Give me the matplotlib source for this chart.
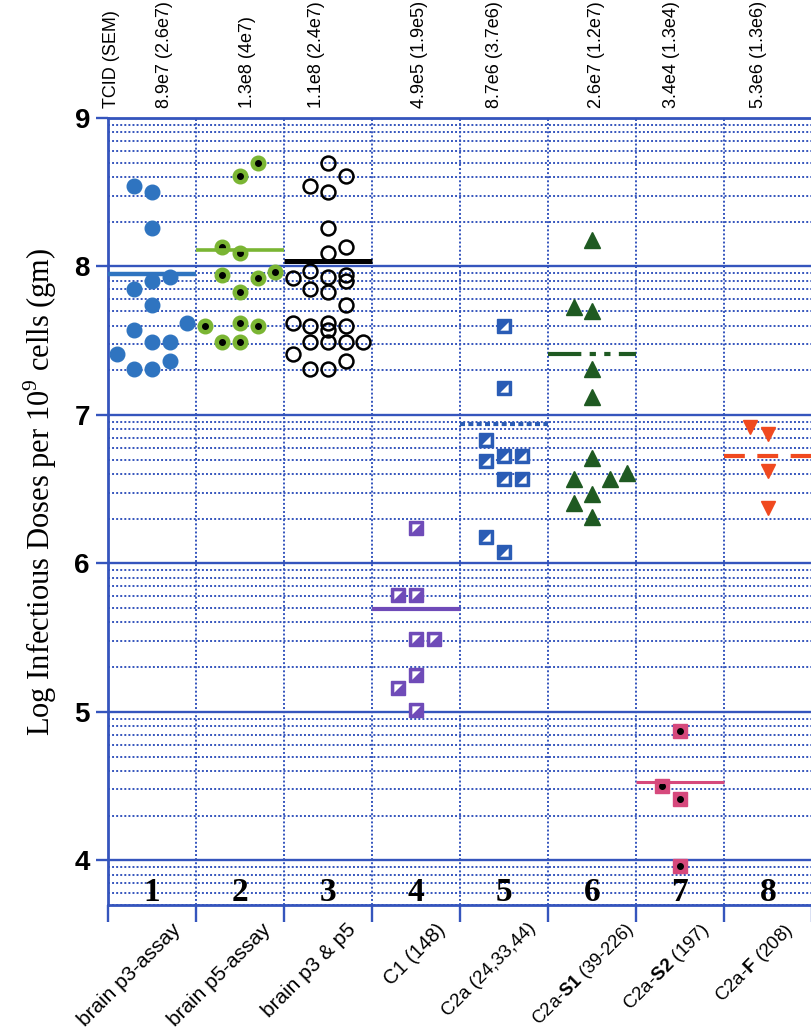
import matplotlib
matplotlib.use("Agg")
import matplotlib.pyplot as plt
import numpy as np
from matplotlib.path import Path
from matplotlib.transforms import blended_transform_factory

plt.rcParams["mathtext.fontset"] = "custom"
plt.rcParams["mathtext.rm"] = "Liberation Serif"
plt.rcParams["mathtext.bf"] = "Liberation Sans:bold"

# ---- data (log10 infectious doses), x offsets are the swarm positions inside each column
g1_dx = [-0.2, 0, 0, 0, 0.2, -0.2, 0, 0.4, -0.2, 0, 0.2, -0.4, 0.2, -0.2, 0]
g1_y = [8.54, 8.50, 8.26, 7.90, 7.93, 7.85, 7.74, 7.62, 7.57, 7.49, 7.49, 7.41, 7.36, 7.31, 7.31]

g2_dx = [0.2, 0, -0.2, 0, 0.4, -0.2, 0.2, 0, -0.4, 0, 0.2, -0.2, 0]
g2_y = [8.70, 8.61, 8.13, 8.09, 7.96, 7.94, 7.92, 7.83, 7.60, 7.62, 7.60, 7.49, 7.49]

g3_dx = [0, 0.2, -0.2, 0, 0, 0.2, 0, -0.2, -0.4, 0, 0.2, 0.2, -0.2, 0, 0.2,
         -0.4, -0.2, 0, 0, 0.2, -0.2, 0, 0.2, 0.4, -0.4, -0.2, 0, 0.2]
g3_y = [8.70, 8.61, 8.54, 8.50, 8.26, 8.13, 8.09, 7.97, 7.92, 7.93, 7.94, 7.90, 7.85, 7.83, 7.74,
        7.62, 7.60, 7.62, 7.57, 7.60, 7.49, 7.49, 7.49, 7.49, 7.41, 7.31, 7.31, 7.36]

g4_dx = [0, -0.2, 0, 0, 0.2, 0, -0.2, 0]
g4_y = [6.24, 5.79, 5.79, 5.49, 5.49, 5.25, 5.16, 5.01]

g5_dx = [0, 0, -0.2, -0.2, 0, 0.2, 0, 0.2, -0.2, 0]
g5_y = [7.60, 7.18, 6.83, 6.69, 6.72, 6.72, 6.57, 6.57, 6.18, 6.08]

g6_dx = [0, -0.2, 0, 0, 0, 0, -0.2, 0.2, 0.4, 0, -0.2, 0]
g6_y = [8.18, 7.73, 7.70, 7.31, 7.12, 6.71, 6.57, 6.57, 6.61, 6.47, 6.41, 6.31]

g7_dx = [0, -0.2, 0, 0]
g7_y = [4.87, 4.50, 4.41, 3.96]

g8_dx = [-0.2, 0, 0, 0]
g8_y = [6.92, 6.87, 6.62, 6.37]

means = [7.95, 8.11, 8.04, 5.69, 6.94, 7.41, 4.53, 6.72]
tcid_labels = ["TCID (SEM)", "8.9e7 (2.6e7)", "1.3e8 (4e7)", "1.1e8 (2.4e7)", "4.9e5 (1.9e5)",
               "8.7e6 (3.7e6)", "2.6e7 (1.2e7)", "3.4e4 (1.3e4)", "5.3e6 (1.3e6)"]
tcid_x = [0.545, 1.143, 2.08, 2.87, 4.04, 4.895, 6.05, 6.90, 7.89]
categories = ["brain p3-assay", "brain p5-assay", "brain p3 & p5", "C1 (148)",
              "C2a (24,33,44)", r"C2a-$\mathbf{S1}$ (39-226)", r"C2a-$\mathbf{S2}$ (197)",
              r"C2a-$\mathbf{F}$ (208)"]
# where each slanted label ends (pixels right of the column centre) and its size
label_shift = [19, 21, 18, 20, 23, 32, 19, 15]
label_size = [15, 15, 15, 14.5, 13.5, 13, 13.5, 13.5]

GRID = "#3555bd"
C1 = "#2f74c0"
C2 = "#7ab533"
C4 = "#6f4bb8"
C5 = "#2a5cb5"
C6 = "#1f5a22"
C7 = "#d6497c"
C8 = "#f0491f"

fig = plt.figure(figsize=(8.12, 10.32), dpi=100)
ax = fig.add_axes([108 / 812, 1 - 905 / 1032, 1 - 108 / 812, (905 - 118) / 1032])
ax.set_xlim(0.5, 0.5 + (812 - 108) / 88.6)
ax.set_ylim(3.70, 9.0)
ax.set_axisbelow(True)

# log-style grid inside each decade
ax.set_yticks(range(4, 10))
minor = [n + np.log10(k) for n in range(3, 9) for k in range(2, 10)]
ax.set_yticks([m for m in minor if 3.69 < m < 9], minor=True)
ax.set_xticks(np.arange(0.5, 9, 1))
ax.grid(axis="y", which="major", color=GRID, lw=1.7, ls="-")
ax.grid(axis="y", which="minor", color=GRID, lw=1.4, ls=(0, (1, 1.1)))
ax.grid(axis="x", which="major", color=GRID, lw=1.4, ls=(0, (1, 1.1)))
ax.tick_params(axis="x", which="major", length=12, width=1.7, color=GRID, labelbottom=False)
ax.tick_params(axis="y", which="major", length=9, width=1.7, color=GRID, pad=4)
ax.tick_params(axis="y", which="minor", length=0)
ax.set_yticklabels([str(v) for v in range(4, 10)], fontsize=20, fontweight="bold",
                   family="Liberation Sans")
for side in ("left", "bottom", "top"):
    ax.spines[side].set_color(GRID)
    ax.spines[side].set_linewidth(2)
ax.spines["right"].set_visible(False)

# half-white square markers
tri_ul = Path([(-1, -1), (1, 1), (-1, 1), (-1, -1)])
tri_lr = Path([(-1, -1), (1, -1), (1, 1), (-1, -1)])

x1 = 1 + np.array(g1_dx)
ax.plot(x1, g1_y, "o", ms=10.5, color=C1, mec=C1, zorder=3)

x2 = 2 + np.array(g2_dx)
ax.plot(x2, g2_y, "o", ms=10.5, color=C2, mec=C2, zorder=3)
ax.plot(x2, g2_y, "o", ms=4, color="black", zorder=4)

x3 = 3 + np.array(g3_dx)
ax.plot(x3, g3_y, "o", ms=10, mfc="none", mec="black", mew=1.8, zorder=3)

x4 = 4 + np.array(g4_dx)
ax.plot(x4, g4_y, "s", ms=10, color=C4, mec=C4, zorder=3)
ax.plot(x4, g4_y, marker=tri_ul, ls="none", ms=6, color="white", mec="none", zorder=4)

x5 = 5 + np.array(g5_dx)
ax.plot(x5, g5_y, "s", ms=10, color=C5, mec=C5, zorder=3)
ax.plot(x5, g5_y, marker=tri_lr, ls="none", ms=6, color="white", mec="none", zorder=4)

x6 = 6 + np.array(g6_dx)
ax.plot(x6, g6_y, "^", ms=11.5, color=C6, mec=C6, zorder=3)

x7 = 7 + np.array(g7_dx)
ax.plot(x7, g7_y, "s", ms=10, color=C7, mec=C7, zorder=3)
ax.plot(x7, g7_y, "o", ms=4, color="black", zorder=4)

x8 = 8 + np.array(g8_dx)
ax.plot(x8, g8_y, "v", ms=10.5, color=C8, mec=C8, zorder=3)

# group means
mean_styles = [
    dict(color=C1, lw=3.2, ls="-"),
    dict(color=C2, lw=2.6, ls="-"),
    dict(color="black", lw=3.6, ls="-"),
    dict(color=C4, lw=3.0, ls="-"),
    dict(color=C5, lw=3.0, ls=(0, (1.2, 0.8))),
    dict(color=C6, lw=3.0, ls=(0, (8, 2, 1.5, 2, 1.5, 2))),
    dict(color=C7, lw=2.2, ls="-"),
    dict(color=C8, lw=3.0, ls=(0, (5, 3))),
]
for i, (m, st) in enumerate(zip(means, mean_styles), start=1):
    ax.hlines(m, i - 0.5, i + 0.5, zorder=5, **st)

# column numbers
for i in range(1, 9):
    ax.text(i, 3.725, str(i), ha="center", va="baseline", fontsize=24, fontweight="bold",
            family="Liberation Serif", zorder=6)

# TCID values above the plot
trans = blended_transform_factory(ax.transData, ax.transAxes)
for xt, lab in zip(tcid_x, tcid_labels):
    ax.text(xt, 1.0127, lab, rotation=90, ha="center", va="bottom", fontsize=13,
            family="Liberation Sans", transform=trans, clip_on=False)

# category labels
for i, lab in enumerate(categories, start=1):
    ax.text(i + label_shift[i - 1] / 88.6, -0.019, lab, rotation=45, rotation_mode="anchor",
            ha="right", va="top", fontsize=label_size[i - 1], family="Liberation Sans",
            transform=trans, clip_on=False)

fig.text(40 / 812, 1 - 492 / 1032, r"Log Infectious Doses per $10^{9}$ cells (gm)",
         rotation=90, ha="center", va="center", fontsize=22, family="Liberation Serif")

fig.savefig("out.png", dpi=100)
